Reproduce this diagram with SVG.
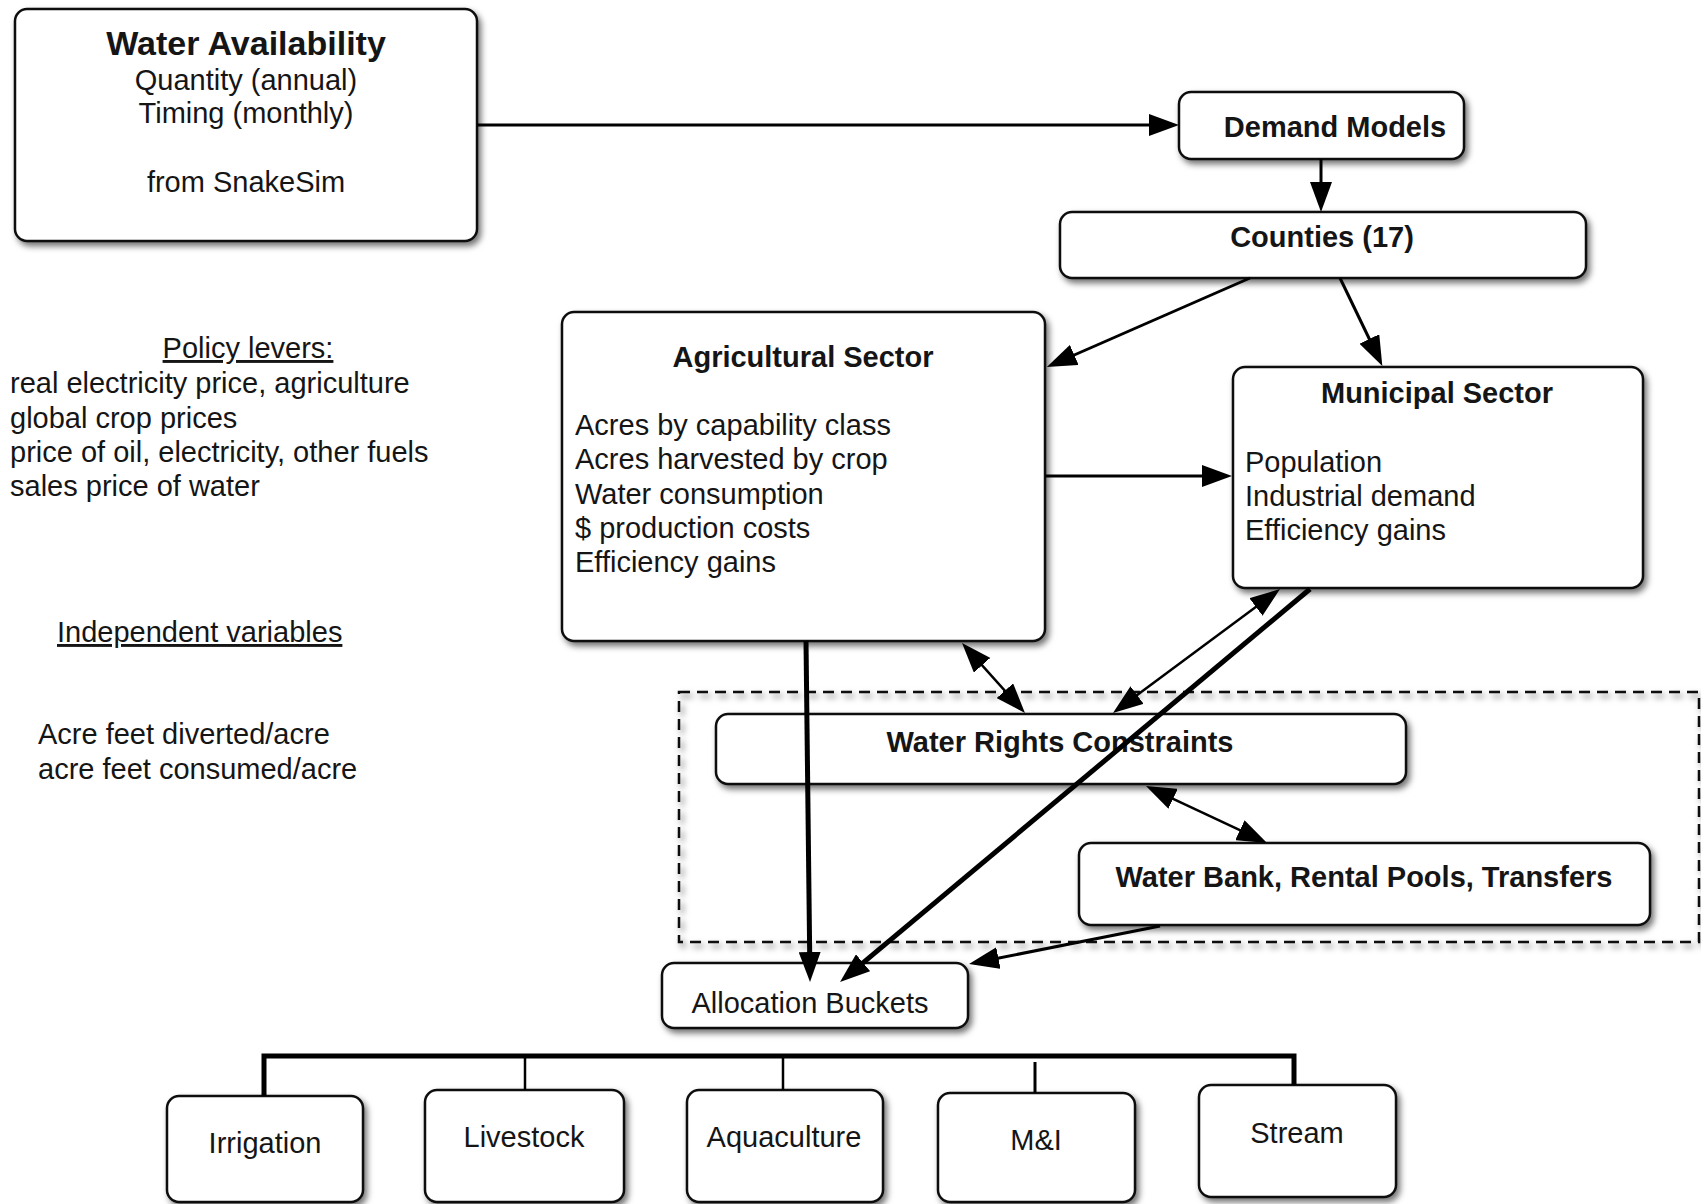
<svg xmlns="http://www.w3.org/2000/svg" width="1701" height="1204" viewBox="0 0 1701 1204">
<defs>
<filter id="sh" x="-10%" y="-10%" width="125%" height="135%">
<feDropShadow dx="3" dy="4" stdDeviation="3" flood-color="#000" flood-opacity="0.55"/>
</filter>
<marker id="ah" markerUnits="userSpaceOnUse" markerWidth="30" markerHeight="22" viewBox="0 0 30 22" refX="20" refY="11" orient="auto-start-reverse">
<path d="M0,0 L30,11 L0,22 z" fill="#000"/>
</marker>
<style>
.box{fill:#fff;stroke:#111;stroke-width:2.5;filter:url(#sh)}
.dash{fill:none;stroke:#111;stroke-width:2.5;stroke-dasharray:11,7;filter:url(#sh)}
text{font-family:"Liberation Sans",Arial,Helvetica,sans-serif;font-size:29px;fill:#151515}
.b{font-weight:bold}
.c{text-anchor:middle}
.u{text-decoration:underline}
.ln{stroke:#000;fill:none;stroke-width:3}
.thin{stroke:#000;fill:none;stroke-width:2.5}
.thick{stroke:#000;fill:none;stroke-width:5}
</style>
</defs>
<rect width="1701" height="1204" fill="#fff"/>

<g id="notes">
<text class="c u" x="248" y="358">Policy levers:</text>
<text x="10" y="393">real electricity price, agriculture</text>
<text x="10" y="428">global crop prices</text>
<text x="10" y="462">price of oil, electricity, other fuels</text>
<text x="10" y="496">sales price of water</text>
<text class="u" x="57" y="642">Independent variables</text>
<text x="38" y="744">Acre feet diverted/acre</text>
<text x="38" y="779">acre feet consumed/acre</text>
</g>

<g id="water-market-group">
<rect class="dash" x="679" y="692" width="1020" height="250"/>
</g>

<g id="water-availability">
<rect class="box" x="15" y="9" width="462" height="232" rx="12"/>
<text class="c b" x="246" y="55" style="font-size:34px">Water Availability</text>
<text class="c" x="246" y="90">Quantity (annual)</text>
<text class="c" x="246" y="123">Timing (monthly)</text>
<text class="c" x="246" y="192">from SnakeSim</text>
</g>

<g id="demand-models">
<rect class="box" x="1179" y="92" width="285" height="67" rx="12"/>
<text class="c b" x="1335" y="137">Demand Models</text>
</g>

<g id="counties">
<rect class="box" x="1060" y="212" width="526" height="66" rx="12"/>
<text class="c b" x="1322" y="247">Counties (17)</text>
</g>

<g id="agricultural-sector">
<rect class="box" x="562" y="312" width="483" height="329" rx="12"/>
<text class="c b" x="803" y="367">Agricultural Sector</text>
<text x="575" y="435">Acres by capability class</text>
<text x="575" y="469">Acres harvested by crop</text>
<text x="575" y="504">Water consumption</text>
<text x="575" y="538">$ production costs</text>
<text x="575" y="572">Efficiency gains</text>
</g>

<g id="municipal-sector">
<rect class="box" x="1233" y="367" width="410" height="221" rx="12"/>
<text class="c b" x="1437" y="403">Municipal Sector</text>
<text x="1245" y="472">Population</text>
<text x="1245" y="506">Industrial demand</text>
<text x="1245" y="540">Efficiency gains</text>
</g>

<g id="water-rights">
<rect class="box" x="716" y="714" width="690" height="70" rx="12"/>
<text class="c b" x="1060" y="752">Water Rights Constraints</text>
</g>

<g id="water-bank">
<rect class="box" x="1079" y="843" width="571" height="82" rx="12"/>
<text class="c b" x="1364" y="887">Water Bank, Rental Pools, Transfers</text>
</g>

<g id="allocation-buckets">
<rect class="box" x="662" y="963" width="306" height="65" rx="12"/>
<text class="c" x="810" y="1013">Allocation Buckets</text>
</g>

<g id="irrigation">
<rect class="box" x="167" y="1096" width="196" height="106" rx="12"/>
<text class="c" x="265" y="1153">Irrigation</text>
</g>
<g id="livestock">
<rect class="box" x="425" y="1090" width="199" height="112" rx="12"/>
<text class="c" x="524" y="1147">Livestock</text>
</g>
<g id="aquaculture">
<rect class="box" x="687" y="1090" width="196" height="112" rx="12"/>
<text class="c" x="784" y="1147">Aquaculture</text>
</g>
<g id="m-and-i">
<rect class="box" x="938" y="1093" width="197" height="109" rx="12"/>
<text class="c" x="1036" y="1150">M&amp;I</text>
</g>
<g id="stream">
<rect class="box" x="1199" y="1085" width="197" height="112" rx="12"/>
<text class="c" x="1297" y="1143">Stream</text>
</g>

<g id="connectors">
<path class="ln" d="M477,125 L1169,125" marker-end="url(#ah)"/>
<path class="ln" d="M1321,159 L1321,202" marker-end="url(#ah)"/>
<path class="ln" d="M1250,278 L1056,363" marker-end="url(#ah)"/>
<path class="ln" d="M1340,278 L1378,357" marker-end="url(#ah)"/>
<path class="ln" d="M1045,476 L1222,476" marker-end="url(#ah)"/>
<path class="thin" d="M968.7,650.4 L1018.3,705.6" marker-start="url(#ah)" marker-end="url(#ah)"/>
<path class="thin" d="M1272,595 L1121,707" marker-start="url(#ah)" marker-end="url(#ah)"/>
<path class="thick" d="M1310,589 L847.7,975.6" marker-end="url(#ah)"/>
<path class="thick" d="M806,641 L809.9,972" marker-end="url(#ah)"/>
<path class="ln" d="M1160,926 L978.8,962" marker-end="url(#ah)"/>
<path class="thin" d="M1155,790.3 L1258,838.7" marker-start="url(#ah)" marker-end="url(#ah)"/>
<path class="thick" d="M264,1096 L264,1056 L1294,1056 L1294,1085"/>
<path class="thin" d="M525,1056 L525,1090"/>
<path class="thin" d="M783,1056 L783,1090"/>
<path class="ln" d="M1035,1062 L1035,1093"/>
</g>
</svg>
